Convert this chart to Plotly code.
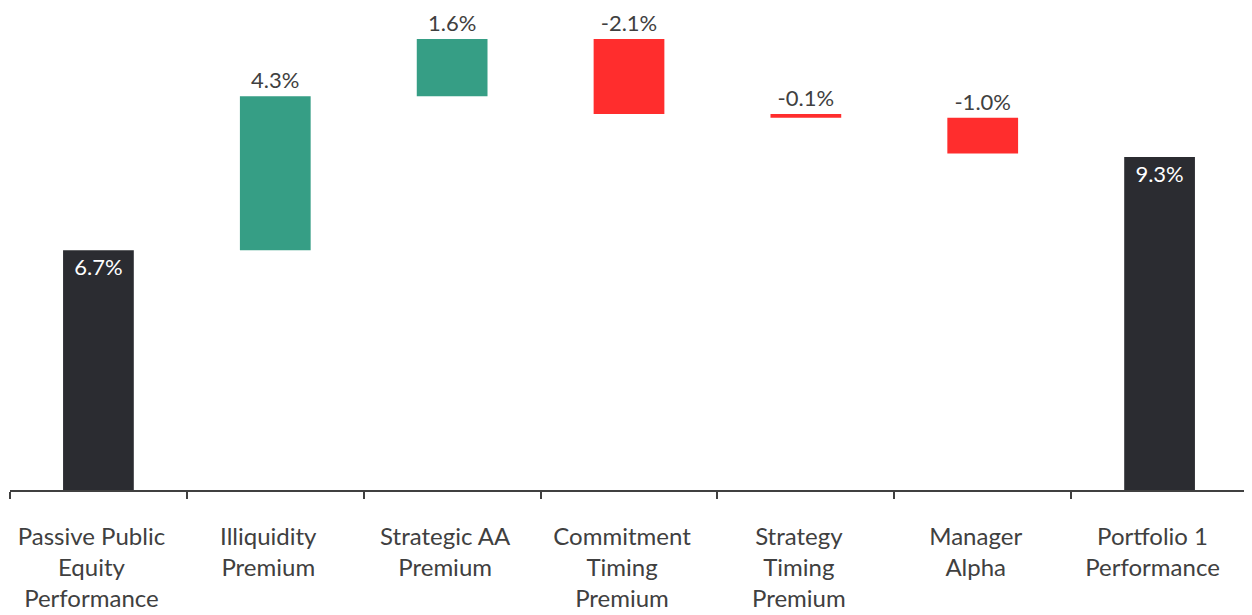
import plotly.graph_objects as go

categories = ["Passive Public<br>Equity<br>Performance", "Illiquidity<br>Premium",
              "Strategic AA<br>Premium", "Commitment<br>Timing<br>Premium",
              "Strategy<br>Timing<br>Premium", "Manager<br>Alpha", "Portfolio 1<br>Performance"]
values = [6.7, 4.3, 1.6, -2.1, -0.1, -1.0, 9.3]
kinds = ["total", "delta", "delta", "delta", "delta", "delta", "total"]

DARK = "#2b2c31"
GREEN = "#369e85"
RED = "#ff2d2d"

bases, heights, colors, texts, tpos, tcolors = [], [], [], [], [], []
level = 0.0
for v, k in zip(values, kinds):
    if k == "total":
        bases.append(0)
        heights.append(v)
        level = v
        colors.append(DARK)
        tpos.append("inside")
        tcolors.append("white")
    else:
        new = level + v
        bases.append(min(level, new))
        heights.append(abs(v))
        level = new
        colors.append(GREEN if v >= 0 else RED)
        tpos.append("outside")
        tcolors.append("#404040")
    texts.append(f"{v:.1f}%")

fig = go.Figure(go.Bar(
    x=categories, y=heights, base=bases,
    marker=dict(color=colors, line=dict(width=0)),
    width=0.4,
    text=texts, textposition=tpos, insidetextanchor="end",
    textfont=dict(family="Lato", size=22, color=tcolors),
    constraintext="none",
    cliponaxis=False,
))

fig.update_layout(
    width=1244, height=607,
    margin=dict(l=2, r=4, t=2, b=125, autoexpand=False),
    plot_bgcolor="white", paper_bgcolor="white",
    showlegend=False,
    font=dict(family="Lato", size=24, color="#404040"),
)
fig.update_yaxes(range=[0, 480 / 35.8], visible=False, showgrid=False, automargin=False)
fig.update_xaxes(
    automargin=False,
    showline=True, linecolor="#404040", linewidth=1.5,
    ticks="outside", tickson="boundaries", ticklen=7, tickcolor="#404040", tickwidth=1.5,
    ticklabelstandoff=24, ticklabelshift=-7,
    tickfont=dict(family="Lato", size=24, color="#404040"),
    showgrid=False, range=[-0.5, 6.5],
)

fig.write_html("out.html")
